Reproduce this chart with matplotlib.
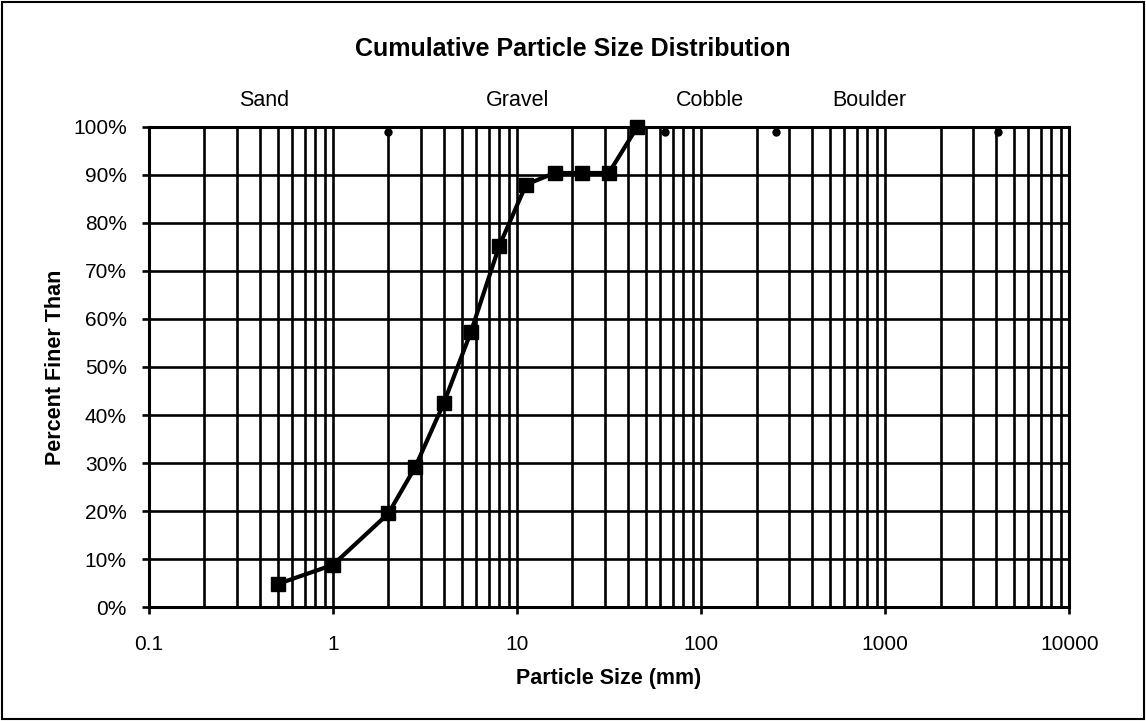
import matplotlib.pyplot as plt
from matplotlib.ticker import FixedLocator, FuncFormatter, LogLocator, NullFormatter
from matplotlib.patches import Rectangle
import matplotlib.transforms as mtransforms

plt.rcParams["font.family"] = ["Liberation Sans", "DejaVu Sans"]

# sieve sizes (mm) and cumulative percent passing
sizes = [0.5, 1, 2, 2.8, 4, 5.6, 8, 11.2, 16, 22.4, 31.5, 45]
percent_finer = [4.8, 8.8, 19.5, 29.2, 42.5, 57.2, 75.2, 88.0, 90.4, 90.4, 90.4, 100.0]

# class boundaries (mm)
boundaries = [2, 64, 256, 4096]
boundary_level = [99, 99, 99, 99]

classes = ["Sand", "Gravel", "Cobble", "Boulder"]
class_label_x = [0.42, 10, 112, 820]

x_ticks = [0.1, 1, 10, 100, 1000, 10000]
x_tick_labels = ["0.1", "1", "10", "100", "1000", "10000"]


def main():
    fig = plt.figure(figsize=(11.46, 7.21), dpi=100)
    ax = fig.add_axes([0.130, 0.158, 0.803, 0.666])

    ax.set_xscale("log")
    ax.set_xlim(0.1, 10000)
    ax.set_ylim(0, 100)

    ax.xaxis.set_major_locator(FixedLocator(x_ticks))
    ax.set_xticklabels(x_tick_labels)
    ax.xaxis.set_minor_locator(LogLocator(base=10, subs=range(2, 10)))
    ax.xaxis.set_minor_formatter(NullFormatter())
    ax.set_yticks(range(0, 101, 10))
    ax.yaxis.set_major_formatter(FuncFormatter(lambda v, p: f"{int(v)}%"))

    ax.grid(which="both", color="black", linewidth=1.9)
    ax.set_axisbelow(True)
    for s in ax.spines.values():
        s.set_linewidth(2.2)
        s.set_color("black")
    ax.tick_params(which="major", direction="out", length=5, width=1.9,
                   labelsize=15)
    ax.tick_params(axis="y", pad=11)
    ax.tick_params(axis="x", pad=15)
    ax.tick_params(which="minor", length=0)

    ax.plot(boundaries, boundary_level, linestyle="none", marker="o",
            color="black", markersize=5, clip_on=False)
    ax.plot(sizes, percent_finer, color="black", linewidth=3, marker="s",
            markersize=10, clip_on=False, zorder=5)

    ax.set_xlabel("Particle Size (mm)", fontsize=15.5, fontweight="bold")
    ax.xaxis.label.set_va("center")
    ax.xaxis.set_label_coords(0.5, -0.148)
    ax.set_ylabel("Percent Finer Than", fontsize=15.5, fontweight="bold")
    ax.yaxis.label.set_va("center")
    ax.yaxis.set_label_coords(-0.102, 0.5)

    trans = mtransforms.blended_transform_factory(ax.transData, ax.transAxes)
    for name, xc in zip(classes, class_label_x):
        ax.text(xc, 1.056, name, transform=trans, ha="center", va="center",
                fontsize=15.5)

    fig.text(0.5, 1 - 49 / 721, "Cumulative Particle Size Distribution",
             ha="center", va="center", fontsize=18, fontweight="bold")

    fig.add_artist(Rectangle((0.002, 0.003), 0.996, 0.994, transform=fig.transFigure,
                             fill=False, edgecolor="black", linewidth=1.5))

    fig.savefig("out.png", dpi=100)


if __name__ == "__main__":
    main()
